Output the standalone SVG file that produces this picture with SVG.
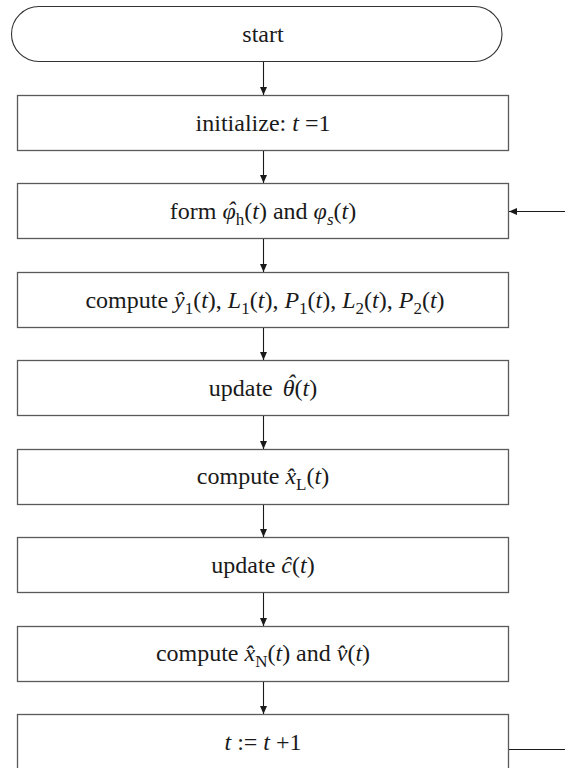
<svg xmlns="http://www.w3.org/2000/svg" width="565" height="768" viewBox="0 0 565 768">
  <style>
    .box { fill: #ffffff; stroke: #5a5a5a; stroke-width: 1.3; }
    .term { fill: #ffffff; stroke: #333333; stroke-width: 1.1; }
    .lbl { font-family: "Liberation Serif", "Times New Roman", serif; font-size: 24px; fill: #1a1a1a; text-anchor: middle; }
    .it { font-style: italic; }
    .sub { font-size: 17px; }
    .conn { stroke: #1a1a1a; stroke-width: 1.1; fill: none; }
  </style>
  <defs>
    <marker id="arrow" markerUnits="userSpaceOnUse" markerWidth="8" markerHeight="10" viewBox="0 0 8 10" refX="8" refY="5" orient="auto">
      <path d="M0,1.5 L8,5 L0,8.5 Z" fill="#1a1a1a"/>
    </marker>
  </defs>

  <!-- flow steps -->
  <g id="start">
    <rect class="term" x="11.5" y="6.5" width="490.5" height="55" rx="27.5" ry="27.5"/>
    <text class="lbl" x="263" y="42">start</text>
  </g>
  <g id="init">
    <rect class="box" x="17.5" y="95.5" width="491" height="55"/>
    <text class="lbl" x="263" y="131">initialize: <tspan class="it">t</tspan> =1</text>
  </g>
  <g id="form-phi">
    <rect class="box" x="17.5" y="183.5" width="491" height="55"/>
    <!-- circumflex over phi placed with relative offsets so the line stays centred -->
    <text class="lbl" x="263" y="219">form <tspan class="it">φ</tspan><tspan class="it" dx="-8.6" dy="-1">ˆ</tspan><tspan class="sub" dx="0.6" dy="7">h</tspan><tspan dy="-6">(</tspan><tspan class="it">t</tspan>) and <tspan class="it">φ</tspan><tspan class="sub it" dy="6">s</tspan><tspan dy="-6">(</tspan><tspan class="it">t</tspan>)</text>
  </g>
  <g id="compute-y">
    <rect class="box" x="17.5" y="272.5" width="491" height="55"/>
    <text class="lbl" x="265" y="308">compute <tspan class="it">ŷ</tspan><tspan class="sub" dy="6">1</tspan><tspan dy="-6">(</tspan><tspan class="it">t</tspan>), <tspan class="it">L</tspan><tspan class="sub" dy="6">1</tspan><tspan dy="-6">(</tspan><tspan class="it">t</tspan>), <tspan class="it">P</tspan><tspan class="sub" dy="6">1</tspan><tspan dy="-6">(</tspan><tspan class="it">t</tspan>), <tspan class="it">L</tspan><tspan class="sub" dy="6">2</tspan><tspan dy="-6">(</tspan><tspan class="it">t</tspan>), <tspan class="it">P</tspan><tspan class="sub" dy="6">2</tspan><tspan dy="-6">(</tspan><tspan class="it">t</tspan>)</text>
  </g>
  <g id="update-theta">
    <rect class="box" x="17.5" y="360.5" width="491" height="55"/>
    <text class="lbl" x="263" y="396">update <tspan class="it" dx="4">θ</tspan><tspan class="it" dx="-7.5" dy="-5">ˆ</tspan><tspan dx="-0.5" dy="5">(</tspan><tspan class="it">t</tspan>)</text>
  </g>
  <g id="compute-xl">
    <rect class="box" x="17.5" y="449.5" width="491" height="55"/>
    <text class="lbl" x="263" y="484">compute <tspan class="it">x̂</tspan><tspan class="sub" dy="6">L</tspan><tspan dy="-6">(</tspan><tspan class="it">t</tspan>)</text>
  </g>
  <g id="update-c">
    <rect class="box" x="17.5" y="537.5" width="491" height="55"/>
    <text class="lbl" x="263" y="573">update <tspan class="it">ĉ</tspan>(<tspan class="it">t</tspan>)</text>
  </g>
  <g id="compute-xn">
    <rect class="box" x="17.5" y="626.5" width="491" height="55"/>
    <text class="lbl" x="263" y="661">compute <tspan class="it">x̂</tspan><tspan class="sub" dy="6">N</tspan><tspan dy="-6">(</tspan><tspan class="it">t</tspan>) and <tspan class="it">v̂</tspan>(<tspan class="it">t</tspan>)</text>
  </g>
  <g id="increment">
    <rect class="box" x="17.5" y="714.5" width="491" height="55"/>
    <text class="lbl" x="263" y="750"><tspan class="it">t</tspan> := <tspan class="it">t</tspan> +1</text>
  </g>

  <!-- connectors -->
  <g id="connectors">
    <line class="conn" x1="263.5" y1="62" x2="263.5" y2="95" marker-end="url(#arrow)"/>
    <line class="conn" x1="263.5" y1="151" x2="263.5" y2="183" marker-end="url(#arrow)"/>
    <line class="conn" x1="263.5" y1="239" x2="263.5" y2="272" marker-end="url(#arrow)"/>
    <line class="conn" x1="263.5" y1="328" x2="263.5" y2="360" marker-end="url(#arrow)"/>
    <line class="conn" x1="263.5" y1="416" x2="263.5" y2="449" marker-end="url(#arrow)"/>
    <line class="conn" x1="263.5" y1="505" x2="263.5" y2="537" marker-end="url(#arrow)"/>
    <line class="conn" x1="263.5" y1="593" x2="263.5" y2="626" marker-end="url(#arrow)"/>
    <line class="conn" x1="263.5" y1="682" x2="263.5" y2="714" marker-end="url(#arrow)"/>
    <!-- loop back: leaves the increment step, re-enters at the form step -->
    <line class="conn" x1="509" y1="749.5" x2="565" y2="749.5"/>
    <line class="conn" x1="565" y1="211.5" x2="509" y2="211.5" marker-end="url(#arrow)"/>
  </g>
</svg>
